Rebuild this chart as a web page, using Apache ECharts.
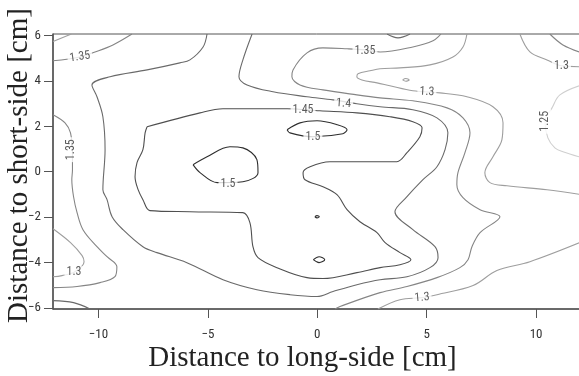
<!DOCTYPE html>
<html>
<head>
<meta charset="utf-8">
<script src="https://cdn.jsdelivr.net/npm/echarts@6/dist/echarts.min.js"></script>
<style>html,body{margin:0;padding:0;background:#fff;}#c{width:579px;height:376px;}</style>
</head>
<body>
<div id="c"></div>
<script>
// ---- tick values ----
const xTicks = [-10, -5, 0, 5, 10];
const yTicks = [-6, -4, -2, 0, 2, 4, 6];

// ---- contour paths, [x, y] in cm ----
const c125 = [[12.1,3.82],[11.09,3.38],[10.73,2.81],[10.41,2.20],[10.54,1.49],[10.86,1.05],[11.23,0.88],[12.1,0.62]];

const c130a = [[-12.08,5.73],[-11.24,6.06]];
const c130b = [[-12.08,-2.51],[-11.28,-3.12],[-10.75,-3.69],[-10.66,-3.96],[-11.08,-4.40],[-11.67,-4.57],[-12.08,-4.62]];
const c130c = [[6.84,6.06],[6.66,5.49],[6.20,5.05],[5.15,4.70],[3.78,4.57],[2.87,4.53],[2.41,4.44],[1.86,4.31],[1.81,4.18],[2.04,4.04],[2.73,3.91],[3.32,3.78],[4.37,3.56],[5.61,3.47],[6.84,3.30],[8.03,2.86],[8.49,2.15],[8.44,1.41],[8.03,0.66],[7.66,-0.04],[7.89,-0.48],[8.67,-0.62],[10.50,-0.79],[12.1,-1.01]];
const c130d = [[9.26,6.06],[9.72,5.27],[10.50,4.92],[11.18,4.66],[12.1,4.62]];
const c130e = [[2.77,-6.04],[3.78,-5.63],[4.79,-5.54],[5.47,-5.41],[7.12,-5.01],[8.21,-4.35],[9.72,-3.96],[12.1,-3.08]];
const c130f = [[3.90,4.04],[4.05,4.10],[4.20,4.04],[4.05,3.98],[3.90,4.04]];

const c135a = [[-12.08,4.88],[-10.85,5.05],[-10.16,5.27],[-9.34,5.58],[-8.47,6.06]];
const c135b = [[-12.08,2.51],[-11.53,2.15],[-11.28,1.71],[-11.19,0.97],[-11.19,0.09],[-11.22,-0.35],[-11.14,-1.10],[-10.98,-1.80],[-10.71,-2.55],[-10.07,-3.30],[-9.61,-3.74],[-9.16,-4.18],[-9.25,-4.62],[-9.93,-4.88],[-10.98,-5.05],[-12.08,-5.10]];
const c135c = [[0.81,-6.04],[1.04,-5.93],[2.87,-5.32],[4.10,-5.05],[5.47,-4.66],[6.52,-4.22],[6.89,-3.87],[7.07,-3.30],[7.44,-2.68],[8.35,-1.98],[7.44,-1.67],[6.66,-1.14],[6.38,-0.57],[6.43,-0.04],[6.75,0.84],[6.98,1.71],[6.66,2.37],[5.93,2.81],[4.37,3.12],[2.87,3.25],[1.81,3.38],[0.26,3.60],[-0.79,3.82],[-1.16,4.18],[-1.11,4.48],[-0.47,5.23],[0.26,5.45],[1.36,5.41],[2.18,5.36],[2.87,5.27],[4.37,5.49],[5.29,5.76],[5.65,6.06]];
const c135d = [[10.63,6.06],[11.23,5.58],[12.1,5.23]];

const c140a = [[-5.04,6.06],[-5.22,5.49],[-5.82,4.92],[-6.28,4.79],[-7.78,4.48],[-9.47,4.18],[-10.30,3.82],[-10.07,3.30],[-9.80,2.42],[-9.70,0.97],[-9.80,-0.79],[-9.61,-1.23],[-9.38,-1.98],[-8.88,-2.55],[-7.97,-3.30],[-7.33,-3.56],[-5.96,-4.00],[-4.31,-4.75],[-2.76,-5.19],[-1.25,-5.41],[-0.01,-5.49],[0.72,-5.27],[1.81,-4.97],[2.87,-4.75],[4.10,-4.62],[5.15,-4.22],[5.52,-3.78],[5.38,-3.30],[4.37,-2.55],[3.55,-1.76],[4.10,-1.10],[4.83,-0.35],[5.47,0.22],[5.84,0.97],[5.97,1.71],[5.47,2.37],[4.37,2.73],[2.87,2.86],[1.81,2.99],[0.72,3.16],[-0.47,3.30],[-2.02,3.52],[-3.21,3.82],[-3.58,4.18],[-3.40,4.92],[-2.98,6.06]];
const c140b = [[3.19,6.06],[3.69,5.89],[4.24,6.06]];
const c140c = [[-12.08,-5.67],[-11.14,-5.76],[-10.39,-6.04]];

const c145 = [[-7.78,1.98],[-5.36,2.59],[-4.31,2.77],[-1.38,2.77],[0.12,2.68],[1.81,2.59],[3.32,2.42],[4.37,2.20],[4.79,1.93],[4.69,1.54],[4.10,0.84],[3.64,0.44],[2.87,0.44],[0.58,0.44],[-0.33,0.22],[-0.65,-0.04],[-0.56,-0.35],[0.26,-0.66],[0.90,-1.01],[1.36,-1.67],[1.95,-2.20],[2.73,-2.68],[3.10,-3.12],[3.78,-3.56],[4.28,-3.87],[3.78,-4.09],[2.87,-4.22],[1.81,-4.44],[0.26,-4.70],[-0.47,-4.66],[-1.84,-4.22],[-2.71,-3.78],[-2.94,-3.30],[-3.08,-2.24],[-3.40,-1.80],[-5.82,-1.76],[-7.65,-1.71],[-7.97,-1.23],[-8.19,-0.79],[-8.33,-0.22],[-8.24,0.40],[-7.97,0.97],[-7.87,1.71],[-7.78,1.98]];

const c150a = [[-5.68,0.31],[-5.04,0.66],[-3.99,1.10],[-3.40,1.05],[-2.76,0.53],[-2.71,-0.04],[-3.40,-0.44],[-4.58,-0.48],[-5.36,-0.04],[-5.68,0.31]];
const c150b = [[-1.38,1.85],[-0.79,2.15],[-0.01,2.24],[0.90,2.07],[1.36,1.85],[1.17,1.67],[-0.20,1.54],[-1.25,1.71],[-1.38,1.85]];
const c150c = [[-0.11,-1.98],[-0.01,-1.93],[0.09,-1.98],[-0.01,-2.03],[-0.11,-1.98]];
const c150d = [[-0.18,-3.87],[0.08,-3.74],[0.34,-3.87],[0.08,-4.00],[-0.18,-3.87]];

// which level each path belongs to
const contourLevels = ['1.25','1.3','1.3','1.3','1.3','1.3','1.3','1.35','1.35','1.35','1.35','1.4','1.4','1.4','1.45','1.5','1.5','1.5','1.5'];
const contourPaths  = [c125, c130a, c130b, c130c, c130d, c130e, c130f, c135a, c135b, c135c, c135d, c140a, c140b, c140c, c145, c150a, c150b, c150c, c150d];

// contour labels: [x, y, text]
const labelPoints = [
  [-10.85, 5.05, '1.35'],
  [-11.24, 0.97, '1.35'],
  [-11.12, -4.42, '1.3'],
  [-0.65, 2.73, '1.45'],
  [1.20, 3.00, '1.4'],
  [2.18, 5.32, '1.35'],
  [5.01, 3.51, '1.3'],
  [11.16, 4.64, '1.3'],
  [10.41, 2.22, '1.25'],
  [-0.20, 1.54, '1.5'],
  [-4.08, -0.55, '1.5'],
  [4.79, -5.54, '1.3']
];
const labelAngles = [8, 90, 0, 0, -4, 0, -3, 0, 90, 0, 0, 5];

// ---- styles ----
const levelColors = {'1.25':'#cfcfcf','1.3':'#9e9e9e','1.35':'#858585','1.4':'#6a6a6a','1.45':'#4f4f4f','1.5':'#2e2e2e'};
const narrow = "'Liberation Sans Narrow','Arial Narrow','Roboto Condensed','Liberation Sans',sans-serif";
const fmt = v => (v < 0 ? '\u2212' : '') + Math.abs(v);

const series = contourPaths.map((p, i) => ({
  type: 'line',
  data: p,
  smooth: 0.35,
  symbol: 'none',
  silent: true,
  clip: true,
  lineStyle: {color: levelColors[contourLevels[i]], width: 1.1},
  z: 2
}));
series.push({
  type: 'scatter',
  symbolSize: 0,
  silent: true,
  z: 5,
  data: labelPoints.map((d, i) => ({
    value: d,
    label: {rotate: labelAngles[i]}
  })),
  label: {
    show: true,
    position: 'inside',
    formatter: p => p.value[2],
    fontFamily: narrow,
    fontSize: 12,
    color: '#333',
    backgroundColor: '#fff',
    padding: [0, 2, 0, 2]
  }
});

const chart = echarts.init(document.getElementById('c'), null, {renderer: 'canvas'});
chart.setOption({
  animation: false,
  grid: {left: 53, top: 34, right: -3, bottom: 67, containLabel: false, outerBoundsMode: 'none', show: true, borderColor: '#555', borderWidth: 1},
  xAxis: {
    type: 'value', min: -12.08, max: 12.1,
    name: 'Distance to long-side [cm]', nameLocation: 'middle', nameGap: 35, nameMoveOverlap: false,
    nameTextStyle: {fontFamily: "'Liberation Serif','Times New Roman',serif", fontSize: 29, color: '#222', padding: [0, 30, 0, 0]},
    axisLine: {onZero: false, lineStyle: {color: '#555', width: 1.5}},
    axisTick: {show: true, length: 9, customValues: xTicks, lineStyle: {color: '#555'}},
    axisLabel: {customValues: xTicks, margin: 19, formatter: fmt, fontSize: 13, color: '#333', fontFamily: narrow},
    splitLine: {show: false}
  },
  yAxis: {
    type: 'value', min: -6.04, max: 6.06,
    name: 'Distance to short-side [cm]', nameLocation: 'middle', nameGap: 19, nameMoveOverlap: false,
    nameTextStyle: {fontFamily: "'Liberation Serif','Times New Roman',serif", fontSize: 29, color: '#222', padding: [0, 0, 0, 12]},
    axisLine: {onZero: false, lineStyle: {color: '#555', width: 1.5}},
    axisTick: {show: true, length: 9, customValues: yTicks, lineStyle: {color: '#555'}},
    axisLabel: {customValues: yTicks, margin: 12, formatter: fmt, fontSize: 13, color: '#333', fontFamily: narrow},
    splitLine: {show: false}
  },
  series: series
});
</script>
</body>
</html>
